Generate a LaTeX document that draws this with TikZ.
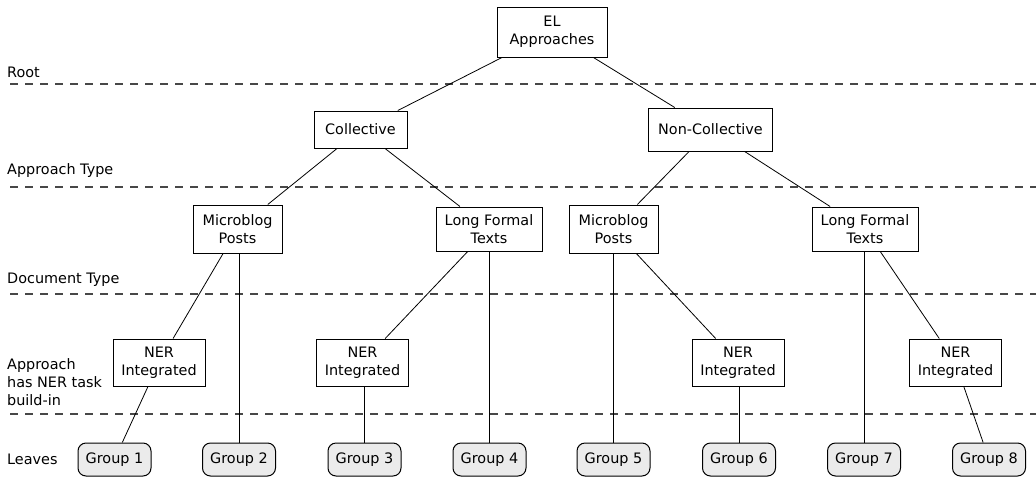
\documentclass[tikz,border=0pt]{standalone}
\usepackage{fontspec}
\setmainfont{DejaVu Sans}
\begin{document}
\begin{tikzpicture}[x=1pt,y=-1pt,
  every node/.style={font=\fontsize{14.4}{18}\selectfont},
  box/.style={draw,line width=1pt,fill=white,align=center,inner sep=0pt},
  grp/.style={draw,line width=1pt,fill=black!8,rounded corners=8pt,inner sep=0pt,minimum width=73pt,minimum height=33pt},
  lbl/.style={anchor=base west,inner sep=0pt,align=left},
  sep/.style={dash pattern=on 8.3pt off 6.7pt,line width=1.3pt,draw=black!72},
  edge/.style={line width=0.8pt}]
\useasboundingbox (0,0) rectangle (1036,477);
% separators
\coordinate (s1a) at (10,84);  \coordinate (s1b) at (1036,84);
\coordinate (s2a) at (10,187); \coordinate (s2b) at (1036,187);
\coordinate (s3a) at (10,294); \coordinate (s3b) at (1036,294);
\coordinate (s4a) at (10,414); \coordinate (s4b) at (1036,414);
\draw[sep] (s1a) -- (s1b);
\draw[sep] (s2a) -- (s2b);
\draw[sep] (s3a) -- (s3b);
\draw[sep] (s4a) -- (s4b);
% labels
\node[lbl] (lroot) at (7,77) {Root};
\node[lbl] (ltype) at (7,174) {Approach Type};
\node[lbl] (ldoc) at (7,283) {Document Type};
\node[lbl] (lner1) at (7,369) {Approach};
\node[lbl] (lner2) at (7,387) {has NER task};
\node[lbl] (lner3) at (7,405) {build-in};
\node[lbl] (lleaf) at (7,464) {Leaves};
% nodes
\node[box,minimum width=110pt,minimum height=50pt] (el) at (552,32) {EL\\Approaches};
\node[box,minimum width=93pt,minimum height=37pt] (col) at (360.5,129.5) {Collective};
\node[box,minimum width=124pt,minimum height=43pt] (ncol) at (710.5,129.5) {Non-Collective};
\node[box,minimum width=89pt,minimum height=48pt] (mb1) at (237.5,229) {Microblog\\Posts};
\node[box,minimum width=106pt,minimum height=44pt] (lf1) at (489,229) {Long Formal\\Texts};
\node[box,minimum width=89pt,minimum height=48pt] (mb2) at (613.5,229) {Microblog\\Posts};
\node[box,minimum width=106pt,minimum height=44pt] (lf2) at (865,229) {Long Formal\\Texts};
\node[box,minimum width=92pt,minimum height=47pt] (ner1) at (159,362.5) {NER\\Integrated};
\node[box,minimum width=92pt,minimum height=47pt] (ner2) at (362.5,362.5) {NER\\Integrated};
\node[box,minimum width=92pt,minimum height=47pt] (ner3) at (738,362.5) {NER\\Integrated};
\node[box,minimum width=92pt,minimum height=47pt] (ner4) at (955.5,362.5) {NER\\Integrated};
\node[grp] (g1) at (114.5,459.5) {Group 1};
\node[grp] (g2) at (239,459.5) {Group 2};
\node[grp] (g3) at (364.5,459.5) {Group 3};
\node[grp] (g4) at (489.5,459.5) {Group 4};
\node[grp] (g5) at (613.5,459.5) {Group 5};
\node[grp] (g6) at (739,459.5) {Group 6};
\node[grp] (g7) at (864,459.5) {Group 7};
\node[grp] (g8) at (989,459.5) {Group 8};
% connectors
\draw[edge] (el) -- (col);
\draw[edge] (el) -- (ncol);
\draw[edge] (col) -- (mb1);
\draw[edge] (col) -- (lf1);
\draw[edge] (ncol) -- (mb2);
\draw[edge] (ncol) -- (lf2);
\draw[edge] (mb1) -- (ner1);
\draw[edge] (mb1.south -| g2.north) -- (g2.north);
\draw[edge] (lf1) -- (ner2);
\draw[edge] (lf1.south -| g4.north) -- (g4.north);
\draw[edge] (mb2.south -| g5.north) -- (g5.north);
\draw[edge] (mb2) -- (ner3);
\draw[edge] (lf2.south -| g7.north) -- (g7.north);
\draw[edge] (lf2) -- (ner4);
\draw[edge] (ner1) -- (g1);
\draw[edge] (ner2.south -| g3.north) -- (g3.north);
\draw[edge] (ner3.south -| g6.north) -- (g6.north);
\draw[edge] (ner4) -- (g8);
\end{tikzpicture}
\end{document}
